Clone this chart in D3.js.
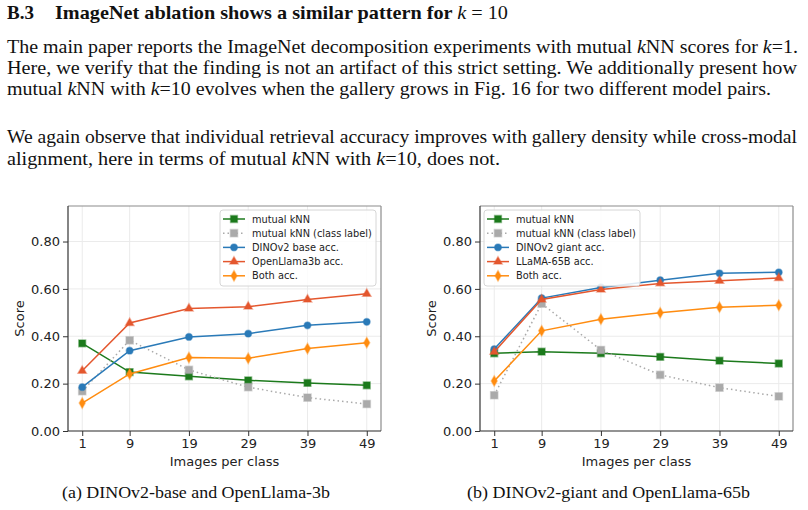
<!DOCTYPE html>
<html lang="en">
<head>
<meta charset="UTF-8">
<title>ImageNet ablation k=10</title>
<script src="https://cdn.jsdelivr.net/npm/d3@7"></script>
<style>
  body { margin: 0; background: #fff; }
  .serif { font-family: "Liberation Serif", "Times New Roman", serif; fill: #111; }
  .sans { font-family: "DejaVu Sans", sans-serif; fill: #222; }
</style>
</head>
<body>
<script>
// x values (images per class)
var xVals = [1, 9, 19, 29, 39, 49];
var yTicks = [0, 0.2, 0.4, 0.6, 0.8];

// panel (a): DINOv2-base / OpenLlama-3b
var aMutual   = [0.370, 0.249, 0.231, 0.214, 0.203, 0.193];
var aClass    = [0.168, 0.383, 0.258, 0.185, 0.141, 0.114];
var aVision   = [0.185, 0.339, 0.397, 0.411, 0.446, 0.461];
var aLang     = [0.254, 0.456, 0.517, 0.525, 0.555, 0.579];
var aBoth     = [0.118, 0.241, 0.310, 0.307, 0.348, 0.373];
var aLabels   = ["mutual kNN", "mutual kNN (class label)", "DINOv2 base acc.", "OpenLlama3b acc.", "Both acc."];

// panel (b): DINOv2-giant / LLaMA-65B
var bMutual   = [0.328, 0.335, 0.328, 0.313, 0.297, 0.285];
var bClass    = [0.151, 0.538, 0.342, 0.237, 0.183, 0.146];
var bVision   = [0.346, 0.561, 0.606, 0.637, 0.666, 0.670];
var bLang     = [0.334, 0.555, 0.597, 0.623, 0.634, 0.646];
var bBoth     = [0.211, 0.423, 0.472, 0.499, 0.523, 0.531];
var bLabels   = ["mutual kNN", "mutual kNN (class label)", "DINOv2 giant acc.", "LLaMA-65B acc.", "Both acc."];

var captions = ["(a) DINOv2-base and OpenLlama-3b", "(b) DINOv2-giant and OpenLlama-65b"];

// styles for the 5 series, same order in both panels
var styles = [
  {color: "#1c7a1c", sym: d3.symbolSquare,   size: 46, dash: null},
  {color: "#aaaaaa", sym: d3.symbolSquare,   size: 52, dash: "1.5,3"},
  {color: "#2a7ab8", sym: d3.symbolCircle,   size: 36, dash: null},
  {color: "#e4572e", sym: d3.symbolTriangle, size: 30, dash: null},
  {color: "#ff8c10", sym: d3.symbolDiamond,  size: 30, dash: null}
];

var W = 808, H = 510;
var svg = d3.select("body").append("svg")
    .attr("width", W).attr("height", H);

// ---------- page text ----------
svg.append("text").attr("class", "serif").attr("x", 7).attr("y", 19)
    .attr("font-size", 19).attr("font-weight", "bold").text("B.3");
var head = svg.append("text").attr("class", "serif").attr("x", 55).attr("y", 19).attr("font-size", 19)
    .attr("textLength", 453).attr("lengthAdjust", "spacingAndGlyphs");
head.append("tspan").attr("font-weight", "bold").text("ImageNet ablation shows a similar pattern for ");
head.append("tspan").attr("font-style", "italic").text("k");
head.append("tspan").text(" = 10");

// each line: parts [text, italic?] and the width it fills
var bodyLines = [
  {y: 53, w: 791, parts: [["The main paper reports the ImageNet decomposition experiments with mutual ", 0], ["k", 1], ["NN scores for ", 0], ["k", 1], ["=1.", 0]]},
  {y: 74, w: 790, parts: [["Here, we verify that the finding is not an artifact of this strict setting. We additionally present how", 0]]},
  {y: 95, w: 764, parts: [["mutual ", 0], ["k", 1], ["NN with ", 0], ["k", 1], ["=10 evolves when the gallery grows in Fig. 16 for two different model pairs.", 0]]},
  {y: 143, w: 790, parts: [["We again observe that individual retrieval accuracy improves with gallery density while cross-modal", 0]]},
  {y: 165, w: 493, parts: [["alignment, here in terms of mutual ", 0], ["k", 1], ["NN with ", 0], ["k", 1], ["=10, does not.", 0]]}
];

bodyLines.forEach(function (ln) {
    var t = svg.append("text").attr("class", "serif")
        .attr("x", 7).attr("y", ln.y).attr("font-size", 18)
        .attr("textLength", ln.w).attr("lengthAdjust", "spacingAndGlyphs");
    ln.parts.forEach(function (p) {
        t.append("tspan").attr("font-style", p[1] ? "italic" : null).text(p[0]);
    });
});

// ---------- charts ----------
var y0 = 431, y1 = 206;
var yScale = d3.scaleLinear().domain([0, 0.95]).range([y0, y1]);

function drawPanel(left, right, series, labels, legendX, caption) {
    var xScale = d3.scaleLinear().domain([-1.4, 51.4]).range([left, right]);
    var g = svg.append("g");

    // grid
    g.selectAll(".gy").data(yTicks).enter().append("line")
        .attr("x1", left).attr("x2", right)
        .attr("y1", function (d) { return yScale(d); })
        .attr("y2", function (d) { return yScale(d); })
        .attr("stroke", "#ebebeb").attr("stroke-width", 1);
    g.selectAll(".gx").data(xVals).enter().append("line")
        .attr("x1", function (d) { return xScale(d); })
        .attr("x2", function (d) { return xScale(d); })
        .attr("y1", y1).attr("y2", y0)
        .attr("stroke", "#ebebeb").attr("stroke-width", 1);

    // axes
    var axY = d3.axisLeft(yScale).tickValues(yTicks).tickFormat(d3.format(".2f")).tickSize(5).tickPadding(3);
    var axX = d3.axisBottom(xScale).tickValues(xVals).tickSize(5).tickPadding(3);
    var gy = g.append("g").attr("transform", "translate(" + left + ",0)").call(axY);
    var gx = g.append("g").attr("transform", "translate(0," + y0 + ")").call(axX);
    [gy, gx].forEach(function (a) {
        a.select(".domain").remove();
        a.selectAll("text").attr("font-family", "DejaVu Sans, sans-serif").attr("font-size", 13).attr("fill", "#222");
        a.selectAll("line").attr("stroke", "#333");
    });

    // frame: top/right lighter than left/bottom
    g.append("line").attr("x1", left).attr("x2", right).attr("y1", y1).attr("y2", y1).attr("stroke", "#8c8c8c").attr("stroke-width", 1.2);
    g.append("line").attr("x1", right).attr("x2", right).attr("y1", y1).attr("y2", y0).attr("stroke", "#8c8c8c").attr("stroke-width", 1.2);
    g.append("line").attr("x1", left).attr("x2", left).attr("y1", y1).attr("y2", y0).attr("stroke", "#333").attr("stroke-width", 1.2);
    g.append("line").attr("x1", left).attr("x2", right).attr("y1", y0).attr("y2", y0).attr("stroke", "#333").attr("stroke-width", 1.2);

    // labels
    g.append("text").attr("class", "sans").attr("font-size", 13)
        .attr("text-anchor", "middle")
        .attr("x", (left + right) / 2).attr("y", 466)
        .text("Images per class");
    g.append("text").attr("class", "sans").attr("font-size", 13)
        .attr("text-anchor", "middle")
        .attr("transform", "translate(" + (left - 44) + "," + ((y0 + y1) / 2) + ") rotate(-90)")
        .text("Score");

    // lines + markers
    var line = d3.line()
        .x(function (d, i) { return xScale(xVals[i]); })
        .y(function (d) { return yScale(d); });

    series.forEach(function (vals, k) {
        var st = styles[k];
        g.append("path").datum(vals)
            .attr("d", line).attr("fill", "none")
            .attr("stroke", st.color).attr("stroke-width", 1.5)
            .attr("stroke-dasharray", st.dash);
        g.selectAll(".m" + k).data(vals).enter().append("path")
            .attr("d", d3.symbol().type(st.sym).size(st.size))
            .attr("transform", function (d, i) {
                return "translate(" + xScale(xVals[i]) + "," + yScale(d) + ")";
            })
            .attr("fill", st.color)
            .attr("stroke", st.color).attr("stroke-opacity", 0.45).attr("stroke-width", 1.5);
    });

    // legend
    var lg = g.append("g").attr("transform", "translate(" + legendX + ",210)");
    lg.append("rect").attr("width", 156).attr("height", 76).attr("rx", 3)
        .attr("fill", "#fff").attr("fill-opacity", 0.85)
        .attr("stroke", "#d6d6d6").attr("stroke-width", 1);
    labels.forEach(function (lab, k) {
        var st = styles[k];
        var yy = 9 + k * 14.2;
        lg.append("line").attr("x1", 3).attr("x2", 25).attr("y1", yy).attr("y2", yy)
            .attr("stroke", st.color).attr("stroke-width", 1.5)
            .attr("stroke-dasharray", st.dash);
        lg.append("path")
            .attr("d", d3.symbol().type(st.sym).size(st.size))
            .attr("transform", "translate(14," + yy + ")")
            .attr("fill", st.color)
            .attr("stroke", st.color).attr("stroke-opacity", 0.45).attr("stroke-width", 1.5);
        lg.append("text").attr("class", "sans").attr("font-size", 9.8)
            .attr("x", 32).attr("y", yy + 3.5).text(lab);
    });

    svg.append("text").attr("class", "serif").attr("font-size", 16.5)
        .attr("x", caption.x).attr("y", 498)
        .attr("textLength", caption.w).attr("lengthAdjust", "spacingAndGlyphs")
        .text(caption.text);
}

drawPanel(68, 381, [aMutual, aClass, aVision, aLang, aBoth], aLabels, 220, {x: 62, w: 268, text: captions[0]});
drawPanel(480, 793, [bMutual, bClass, bVision, bLang, bBoth], bLabels, 484, {x: 467, w: 283, text: captions[1]});
</script>
</body>
</html>
